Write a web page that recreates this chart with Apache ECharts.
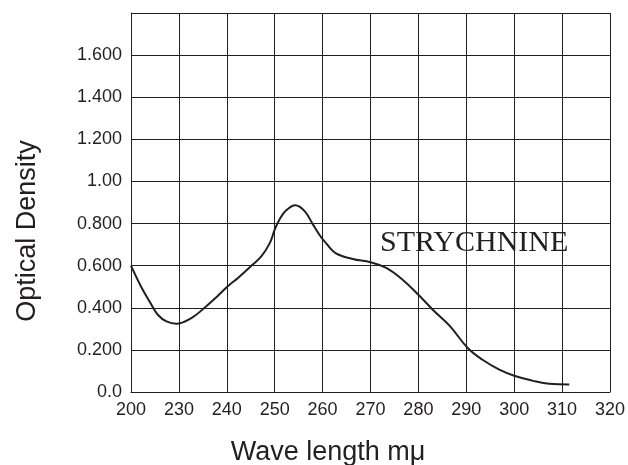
<!DOCTYPE html>
<html>
<head>
<meta charset="utf-8">
<title>Strychnine absorption</title>
<script src="https://cdn.jsdelivr.net/npm/echarts@6/dist/echarts.min.js"></script>
<style>
  html, body { margin: 0; padding: 0; background: #fff; }
  #chart { width: 628px; height: 465px; }
</style>
</head>
<body>
<div id="chart"></div>
<script>
const wavelengths = [220, 222, 224, 225.6, 227.4, 229.5, 232.6, 235.3, 238, 240.2,
  242.4, 245, 247.2, 249, 250, 251, 252.4, 254.3, 256.3, 258,
  259.7, 260.8, 262.7, 266.3, 270, 273.3, 276.7, 280, 283, 286.5,
  290.3, 293.4, 296.9, 300, 303.8, 307.3, 311.5]
const density = [0.600, 0.505, 0.425, 0.367, 0.335, 0.324, 0.351, 0.399, 0.454, 0.502,
  0.543, 0.597, 0.644, 0.708, 0.771, 0.819, 0.863, 0.887, 0.858, 0.795,
  0.735, 0.705, 0.660, 0.632, 0.616, 0.589, 0.533, 0.462, 0.391, 0.315,
  0.209, 0.153, 0.106, 0.077, 0.054, 0.039, 0.036]

// tick labels as printed on the original (first one reads 200)
const xTickLabels = ['200', '230', '240', '250', '260', '270', '280', '290', '300', '310', '320']
const yTickLabels = ['0.0', '0.200', '0.400', '0.600', '0.800', '1.00', '1.200', '1.400', '1.600', '']

const ink = '#231f20'
const chart = echarts.init(document.getElementById('chart'))

const option = {
  backgroundColor: '#fff',
  animation: false,
  grid: {
    left: 131,
    top: 13,
    right: 16,
    bottom: 73
  },
  xAxis: {
    type: 'value',
    min: 220,
    max: 320,
    interval: 10,
    axisLine: { show: true, lineStyle: { color: ink, width: 1 } },
    axisTick: { show: false },
    axisLabel: {
      color: ink,
      fontSize: 18,
      fontFamily: 'Liberation Sans, Arial',
      margin: 9,
      formatter: (v) => xTickLabels[Math.round((v - 220) / 10)]
    },
    splitLine: { show: true, lineStyle: { color: ink, width: 1 } }
  },
  yAxis: {
    type: 'value',
    min: 0,
    max: 1.8,
    interval: 0.2,
    axisLine: { show: true, lineStyle: { color: ink, width: 1 } },
    axisTick: { show: false },
    axisLabel: {
      color: ink,
      fontSize: 18,
      fontFamily: 'Liberation Sans, Arial',
      margin: 9,
      formatter: (v) => yTickLabels[Math.round(v / 0.2)]
    },
    splitLine: { show: true, lineStyle: { color: ink, width: 1 } }
  },
  graphic: [
    {
      type: 'text',
      x: 28,
      y: 231,
      rotation: Math.PI / 2,
      style: {
        text: 'Optical Density',
        fontSize: 27,
        fontFamily: 'Liberation Sans, Arial',
        fill: ink,
        align: 'center',
        verticalAlign: 'middle'
      }
    },
    {
      type: 'text',
      x: 328,
      y: 453,
      style: {
        text: 'Wave length mμ',
        fontSize: 27,
        fontFamily: 'Liberation Sans, Arial',
        fill: ink,
        align: 'center',
        verticalAlign: 'middle'
      }
    },
    {
      type: 'text',
      x: 380,
      y: 243,
      style: {
        text: 'STRYCHNINE',
        fontSize: 30,
        fontFamily: 'Liberation Serif, Times New Roman',
        fill: ink,
        align: 'left',
        verticalAlign: 'middle'
      }
    }
  ],
  series: [
    {
      name: 'Strychnine',
      type: 'line',
      data: wavelengths.map((w, i) => [w, density[i]]),
      smooth: 0.4,
      symbol: 'none',
      lineStyle: { color: ink, width: 2 }
    }
  ]
}

chart.setOption(option)
</script>
</body>
</html>
